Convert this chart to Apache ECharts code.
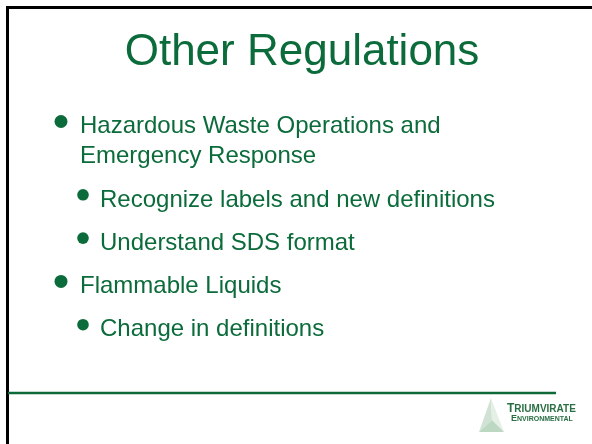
<!DOCTYPE html>
<html>
<head>
<meta charset="utf-8">
<script src="https://cdn.jsdelivr.net/npm/echarts@6/dist/echarts.min.js"></script>
<style>
  html, body { margin: 0; padding: 0; background: #ffffff; }
  #chart { width: 592px; height: 444px; }
</style>
</head>
<body>
<div id="chart"></div>
<script>
// ---- content ----
const titleText = 'Other Regulations';
const bulletLevels = [1, 2, 2, 1, 2];
const bulletLines = [
  ['Hazardous Waste Operations and', 'Emergency Response'],
  ['Recognize labels and new definitions'],
  ['Understand SDS format'],
  ['Flammable Liquids'],
  ['Change in definitions']
];
const logoName = ['T', 'RIUMVIRATE'];
const logoSub = ['E', 'NVIRONMENTAL'];

// ---- style / layout ----
const GREEN = '#0b6b3a';
const FONT = "'Liberation Sans', Arial, sans-serif";
const firstBaseline = 135, wrapGap = 30, paraGap = 43.3;
const textX = { 1: 80, 2: 100 };
const dotX = { 1: 61, 2: 83 };
const dotR = { 1: 6.5, 2: 5.8 };
const dotRise = 13.5;
const MID = 0.35; // canvas middle offset from baseline (em)

const graphics = [];
// border
graphics.push({ type: 'polyline', shape: { points: [[7.5, 700], [7.5, 7.5], [700, 7.5]] },
  style: { stroke: '#000', lineWidth: 3, fill: null } });
// title
graphics.push({ type: 'text', x: 302, y: 68 - 44 * MID,
  style: { text: titleText, font: "44px " + FONT, fill: GREEN, align: 'center', verticalAlign: 'middle', lineHeight: 44 } });

let base = firstBaseline;
bulletLines.forEach((lines, i) => {
  const lvl = bulletLevels[i];
  if (i > 0) base += paraGap;
  graphics.push({ type: 'circle', shape: { cx: dotX[lvl], cy: base - dotRise, r: dotR[lvl] }, style: { fill: GREEN } });
  lines.forEach((ln, j) => {
    if (j > 0) base += wrapGap;
    graphics.push({ type: 'text', x: textX[lvl], y: base - 24 * MID,
      style: { text: ln, font: "24px " + FONT, fill: GREEN, align: 'left', verticalAlign: 'middle', lineHeight: 24 } });
  });
});

// footer line
graphics.push({ type: 'line', shape: { x1: 8, y1: 393, x2: 556, y2: 393 }, style: { stroke: '#0d6a38', lineWidth: 2.5 } });

// logo pyramid
const A = [491, 398], BL = [479, 432], BR = [504, 432], C = [492, 420];
graphics.push({ type: 'polygon', shape: { points: [A, BL, C] }, style: { fill: '#cfe2d3' } });
graphics.push({ type: 'polygon', shape: { points: [A, C, BR] }, style: { fill: '#e4efe6' } });
graphics.push({ type: 'polygon', shape: { points: [BL, BR, C] }, style: { fill: '#bcd7c2' } });
graphics.push({ type: 'text', x: 507, y: 409,
  style: { text: '{a|' + logoName[0] + '}{b|' + logoName[1] + '}', verticalAlign: 'middle',
    rich: { a: { font: "bold 12px " + FONT, fill: '#2a6e44' }, b: { font: "bold 10px " + FONT, fill: '#2a6e44' } } } });
graphics.push({ type: 'text', x: 511, y: 419,
  style: { text: '{a|' + logoSub[0] + '}{b|' + logoSub[1] + '}', verticalAlign: 'middle',
    rich: { a: { font: "bold 9px " + FONT, fill: '#2a6e44' }, b: { font: "bold 7px " + FONT, fill: '#2a6e44' } } } });

const chart = echarts.init(document.getElementById('chart'), null, { renderer: 'canvas' });
chart.setOption({ backgroundColor: '#ffffff', animation: false, graphic: { elements: graphics } });
</script>
</body>
</html>
